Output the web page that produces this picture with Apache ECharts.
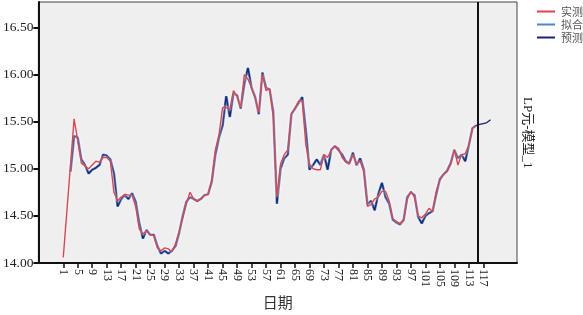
<!DOCTYPE html>
<html>
<head>
<meta charset="utf-8">
<script src="https://cdn.jsdelivr.net/npm/echarts@6/dist/echarts.min.js"></script>
<style>html,body{margin:0;padding:0;background:#fff}#c{width:583px;height:315px}</style>
</head>
<body>
<div id="c"></div>
<script>
// periods 1..115
const actualStart = 1;
const actual = [14.06,14.55,15.04,15.53,15.30,15.06,15.03,15.00,15.04,15.08,
15.07,15.12,15.12,15.08,14.75,14.66,14.70,14.73,14.72,14.72,
14.60,14.36,14.31,14.34,14.30,14.29,14.16,14.13,14.16,14.15,
14.12,14.20,14.33,14.48,14.63,14.75,14.68,14.65,14.68,14.72,
14.73,14.88,15.20,15.36,15.65,15.65,15.63,15.83,15.77,15.65,
16.00,15.95,15.86,15.75,15.60,16.00,15.83,15.85,15.55,14.70,
15.05,15.15,15.20,15.58,15.64,15.72,15.72,15.25,15.05,15.00,
14.99,14.99,15.15,15.12,15.20,15.24,15.22,15.12,15.07,15.05,
15.15,15.05,15.08,14.97,14.60,14.62,14.68,14.70,14.76,14.76,
14.66,14.47,14.44,14.42,14.45,14.68,14.76,14.70,14.50,14.48,
14.52,14.58,14.55,14.76,14.88,14.94,14.97,15.05,15.20,15.04,
15.15,15.16,15.25,15.43,15.46];
// periods 3..115
const fittedStart = 3;
const fitted = [14.97,15.35,15.33,15.10,15.04,14.95,14.99,15.01,
15.04,15.15,15.14,15.10,14.95,14.60,14.68,14.72,14.68,14.74,
14.65,14.42,14.26,14.35,14.30,14.30,14.18,14.10,14.13,14.10,
14.13,14.18,14.32,14.50,14.65,14.70,14.68,14.66,14.68,14.72,
14.73,14.86,15.15,15.33,15.46,15.77,15.55,15.80,15.78,15.64,
15.90,16.07,15.86,15.76,15.58,16.02,15.86,15.84,15.60,14.63,
15.00,15.11,15.15,15.58,15.64,15.70,15.76,15.40,14.99,15.04,
15.10,15.04,15.15,14.99,15.20,15.24,15.20,15.15,15.08,15.06,
15.17,15.04,15.11,14.99,14.62,14.66,14.56,14.73,14.85,14.70,
14.63,14.46,14.43,14.41,14.46,14.70,14.75,14.72,14.49,14.42,
14.50,14.53,14.55,14.73,14.89,14.94,14.98,15.06,15.20,15.11,
15.15,15.08,15.25,15.43,15.46];
// forecast beyond observed periods
const forecastStart = 116;
const forecastTail = [15.47,15.48,15.49,15.52];
const forecastOrigin = 115.5;
const xTicks = [1,5,9,13,17,21,25,29,33,37,41,45,49,53,57,61,65,69,73,77,81,85,89,93,97,101,105,109,113,117];
const yTicks = [14.0,14.5,15.0,15.5,16.0,16.5];
const seriesNames = ['实测','拟合','预测'];
const sideTitle = 'LP元-模型_1';
const xTitle = '日期';

function pairs(start, arr){ return arr.map((v,i)=>[start+i, v]); }
const actualData = pairs(actualStart, actual);
const fittedData = pairs(fittedStart, fitted);
const forecastData = fittedData.concat(pairs(forecastStart, forecastTail));

const serifFont = '"Liberation Serif", "Times New Roman", serif';
const chart = echarts.init(document.getElementById('c'), null, {renderer:'canvas'});
const halo = {shadowColor:'rgba(255,255,255,0.95)', shadowBlur:3};
chart.setOption({
  animation:false,
  backgroundColor:'#fff',
  grid:{left:36, right:66, top:2, bottom:48, show:true, backgroundColor:'#efefef', borderColor:'#444', borderWidth:1},
  legend:{
    orient:'vertical', left:532, top:1, itemWidth:18, itemHeight:2, itemGap:2, icon:'rect',
    textStyle:{fontSize:11, color:'#555', fontFamily:'Noto Sans CJK SC', padding:[0,0,0,1]},
    data:seriesNames
  },
  xAxis:{
    type:'value', min:-5.87, max:126.3,
    name:xTitle, nameLocation:'middle', nameGap:32,
    nameTextStyle:{fontSize:15, color:'#333', fontFamily:'Noto Sans CJK SC'},
    axisLine:{onZero:false, lineStyle:{color:'#111', width:2}},
    axisTick:{customValues:xTicks, length:5, lineStyle:{color:'#111', width:1.5}},
    axisLabel:{customValues:xTicks, rotate:-90, fontSize:12, color:'#222', fontFamily:serifFont, margin:6},
    splitLine:{show:false}
  },
  yAxis:{
    type:'value', min:14, max:16.77,
    axisLine:{show:true, onZero:false, lineStyle:{color:'#111', width:2}},
    axisTick:{show:true, customValues:yTicks, length:5, lineStyle:{color:'#111', width:2}},
    axisLabel:{customValues:yTicks, fontSize:13.5, color:'#222', fontFamily:serifFont, margin:5,
      formatter:v=>v.toFixed(2)},
    splitLine:{show:false}
  },
  graphic:[{
    type:'text', left:521, top:97, rotation:-Math.PI/2,
    style:{text:sideTitle, fontSize:13, fill:'#222', fontFamily:'"Liberation Serif", "Noto Sans CJK SC", serif'}
  }],
  series:[
    {name:'拟合', type:'line', data:fittedData, symbol:'none', z:2,
     itemStyle:{color:'#4f86c6'}, lineStyle:Object.assign({color:'#4f86c6', width:2.6}, halo)},
    {name:'实测', type:'line', data:actualData, symbol:'none', z:4,
     itemStyle:{color:'#e0434f'}, lineStyle:Object.assign({color:'#e0434f', width:1.4}, halo)},
    {name:'预测', type:'line', data:forecastData, symbol:'none', z:3,
     itemStyle:{color:'#1c2470'}, lineStyle:{color:'#1c2470', width:1.3},
     markLine:{silent:true, symbol:'none', label:{show:false},
       lineStyle:{color:'#111', width:2, type:'solid'},
       data:[{xAxis:forecastOrigin}]}}
  ]
});
</script>
</body>
</html>
